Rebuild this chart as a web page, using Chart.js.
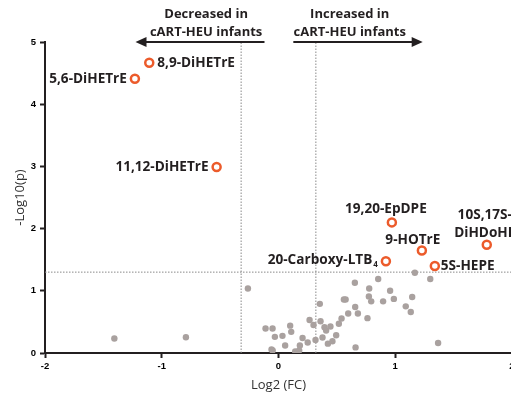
<!DOCTYPE html>
<html>
<head>
<meta charset="utf-8">
<script src="https://cdn.jsdelivr.net/npm/chart.js@4.4.1/dist/chart.umd.min.js"></script>
<style>
html, body { margin: 0; padding: 0; background: #fff; overflow: hidden; }
#wrap { position: relative; width: 530px; height: 394px; }
</style>
</head>
<body>
<div id="wrap"><canvas id="volcano"></canvas></div>
<script>
// all lipids (not significant)
const grayX = [-1.406, -0.793, -0.262, -0.111, -0.051, -0.031, 0.034, 0.10, 0.109, 0.057, -0.06, -0.05, 0.143, 0.177, 0.183, 0.206, 0.25, 0.266, 0.30, 0.317, 0.354, 0.36, 0.377, 0.394, 0.408, 0.423, 0.445, 0.462, 0.494, 0.517, 0.54, 0.56, 0.575, 0.597, 0.654, 0.657, 0.68, 0.66, 0.762, 0.777, 0.774, 0.794, 0.854, 0.896, 0.956, 0.988, 1.09, 1.133, 1.145, 1.168, 1.30, 1.367];
const grayY = [0.233, 0.254, 1.037, 0.394, 0.394, 0.26, 0.276, 0.44, 0.34, 0.12, 0.056, 0.04, 0.024, 0.04, 0.12, 0.24, 0.17, 0.53, 0.45, 0.21, 0.79, 0.51, 0.25, 0.415, 0.36, 0.15, 0.426, 0.19, 0.286, 0.47, 0.555, 0.86, 0.86, 0.635, 1.13, 0.74, 0.635, 0.09, 0.56, 1.037, 0.91, 0.83, 1.19, 0.83, 1.0, 0.87, 0.75, 0.66, 0.90, 1.29, 1.19, 0.16];

// significant lipids
const hitNames = ['8,9-DiHETrE', '5,6-DiHETrE', '11,12-DiHETrE', '19,20-EpDPE', '9-HOTrE', '20-Carboxy-LTB_4', '5S-HEPE', '10S,17S-\nDiHDoHE'];
const hitX = [-1.107, -1.23, -0.53, 0.971, 1.228, 0.92, 1.339, 1.784];
const hitY = [4.665, 4.41, 2.99, 2.10, 1.648, 1.476, 1.40, 1.74];

const xRange = [-2, 2];
const yRange = [0, 5];
const fcCut = 0.32;   // log2 fold change cut
const pCut = 1.3;     // -log10(0.05)

const headerLeft = ['Decreased in', 'cART-HEU infants'];
const headerRight = ['Increased in', 'cART-HEU infants'];

// label placement, px offsets from the point
const labelPos = [
  { dx: 8, dy: 0, align: 'left' },
  { dx: -8, dy: 0, align: 'right' },
  { dx: -8, dy: 0, align: 'right' },
  { dx: -6, dy: -13, align: 'center' },
  { dx: -9, dy: -10, align: 'center' },
  { dx: -8, dy: -1, align: 'right' },
  { dx: 6, dy: 0, align: 'left' },
  { dx: -2, dy: -30, align: 'center' }
];

const labelFont = 'bold 13.6px "Open Sans"';
const headFont = 'bold 13px "Open Sans"';
const ink = '#231f20';

const labelPlugin = {
  id: 'hitLabels',
  afterDatasetsDraw(chart) {
    const ctx = chart.ctx;
    const meta = chart.getDatasetMeta(2);
    ctx.save();
    ctx.fillStyle = ink;
    ctx.textBaseline = 'middle';
    meta.data.forEach((pt, i) => {
      const p = labelPos[i];
      const lines = hitNames[i].split('\n');
      lines.forEach((line, j) => {
        const y = pt.y + p.dy + j * 18;
        const x = pt.x + p.dx;
        const parts = line.split('_');
        ctx.font = labelFont;
        const w0 = ctx.measureText(parts[0]).width;
        let sw = 0;
        if (parts[1]) {
          ctx.font = 'bold 8px "Open Sans"';
          sw = ctx.measureText(parts[1]).width + 1;
        }
        const total = w0 + sw;
        let left = x;
        if (p.align === 'right') left = x - total;
        else if (p.align === 'center') left = x - total / 2;
        ctx.textAlign = 'left';
        ctx.font = labelFont;
        ctx.fillText(parts[0], left, y);
        if (parts[1]) {
          ctx.font = 'bold 8px "Open Sans"';
          ctx.fillText(parts[1], left + w0 + 1, y + 5);
        }
      });
    });
    ctx.restore();
  }
};

const headerPlugin = {
  id: 'header',
  afterDraw(chart) {
    const ctx = chart.ctx;
    const xs = chart.scales.x;
    const ys = chart.scales.y;
    const yA = ys.getPixelForValue(yRange[1]);
    const arrow = (from, to) => {
      const a = xs.getPixelForValue(from);
      const b = xs.getPixelForValue(to);
      const dir = Math.sign(b - a);
      ctx.beginPath();
      ctx.moveTo(a, yA);
      ctx.lineTo(b - dir * 8, yA);
      ctx.stroke();
      ctx.beginPath();
      ctx.moveTo(b, yA);
      ctx.lineTo(b - dir * 11, yA - 5);
      ctx.lineTo(b - dir * 11, yA + 5);
      ctx.closePath();
      ctx.fill();
    };
    ctx.save();
    ctx.strokeStyle = ink;
    ctx.fillStyle = ink;
    ctx.lineWidth = 2;
    arrow(-0.12, -1.225);
    arrow(0.127, 1.235);
    ctx.font = headFont;
    ctx.textAlign = 'center';
    ctx.textBaseline = 'middle';
    const cl = xs.getPixelForValue(-0.62);
    const cr = xs.getPixelForValue(0.61);
    ctx.fillText(headerLeft[0], cl, yA - 28);
    ctx.fillText(headerLeft[1], cl, yA - 10);
    ctx.fillText(headerRight[0], cr, yA - 28);
    ctx.fillText(headerRight[1], cr, yA - 10);
    ctx.restore();
  }
};

const tickFont = { family: '"Liberation Sans"', size: 9.5, weight: 'bold' };
const titleFont = { family: '"Open Sans"', size: 13 };

new Chart(document.getElementById('volcano'), {
  type: 'scatter',
  data: {
    datasets: [
      {
        label: 'fold change cut',
        data: [{ x: -fcCut, y: yRange[0] }, { x: -fcCut, y: yRange[1] }, { x: NaN, y: NaN }, { x: fcCut, y: yRange[0] }, { x: fcCut, y: yRange[1] }, { x: NaN, y: NaN }, { x: xRange[0], y: pCut }, { x: xRange[1], y: pCut }],
        showLine: true,
        spanGaps: false,
        borderColor: '#8a8a8a',
        borderWidth: 1,
        borderDash: [1.5, 1.5],
        pointRadius: 0,
        order: 3
      },
      {
        label: 'lipids',
        data: grayX.map((x, i) => ({ x: x, y: grayY[i] })),
        backgroundColor: '#a9a19f',
        borderWidth: 0,
        pointRadius: 3.2,
        order: 2
      },
      {
        label: 'significant',
        data: hitX.map((x, i) => ({ x: x, y: hitY[i] })),
        backgroundColor: '#fff',
        borderColor: '#ec5b2b',
        borderWidth: 2.5,
        pointRadius: 4,
        clip: false,
        order: 1
      }
    ]
  },
  options: {
    responsive: true,
    maintainAspectRatio: false,
    animation: false,
    layout: { padding: { top: 42, right: 18, bottom: 0, left: 0 } },
    plugins: {
      legend: { display: false },
      tooltip: { enabled: false }
    },
    scales: {
      x: {
        type: 'linear',
        min: xRange[0],
        max: xRange[1],
        afterFit(scale) { scale.height = 41; },
        border: { display: true, color: ink, width: 2 },
        grid: { drawOnChartArea: false, drawTicks: true, tickLength: 5, tickWidth: 2, tickColor: ink },
        ticks: { stepSize: 1, color: '#000', font: tickFont, padding: 3 },
        title: { display: true, text: 'Log2 (FC)', color: '#333', font: titleFont, padding: { top: 0, bottom: 1 } }
      },
      y: {
        type: 'linear',
        min: yRange[0],
        max: yRange[1],
        afterFit(scale) { scale.width = 45; },
        border: { display: true, color: ink, width: 2 },
        grid: { drawOnChartArea: false, drawTicks: true, tickLength: 5, tickWidth: 2, tickColor: ink },
        ticks: { stepSize: 1, color: '#000', font: tickFont, padding: 4 },
        title: { display: true, text: '-Log10(p)', color: '#333', font: titleFont, padding: { top: 12, bottom: 0 } }
      }
    }
  },
  plugins: [labelPlugin, headerPlugin]
});
</script>
</body>
</html>
